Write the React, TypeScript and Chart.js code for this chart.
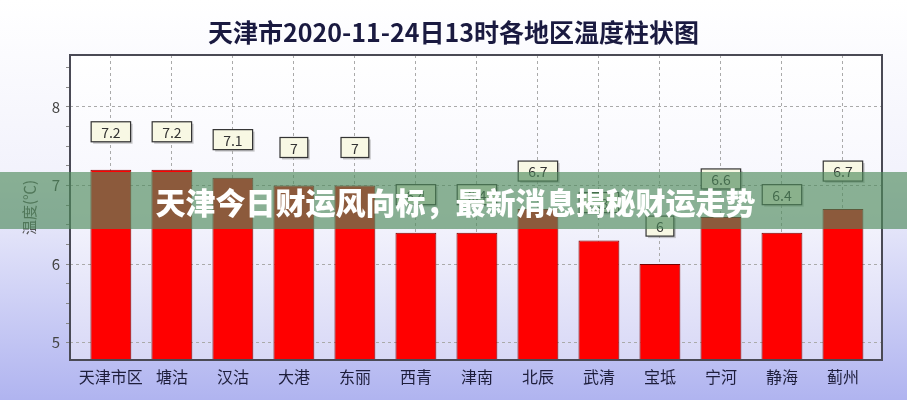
import React, { useEffect, useRef } from "react";
import { Chart, registerables } from "chart.js";

Chart.register(...registerables);

const titleText = "天津市2020-11-24日13时各地区温度柱状图";
const yAxisTitle = "温度(℃)";
const bannerText = "天津今日财运风向标，最新消息揭秘财运走势";
const categories = ["天津市区", "塘沽", "汉沽", "大港", "东丽", "西青", "津南", "北辰", "武清", "宝坻", "宁河", "静海", "蓟州"];
const temperatures = [7.2, 7.2, 7.1, 7, 7, 6.4, 6.4, 6.7, 6.3, 6, 6.6, 6.4, 6.7];
const yMajorTicks = [5, 6, 7, 8];
const yAllTicks = [5, 5.25, 5.5, 5.75, 6, 6.25, 6.5, 6.75, 7, 7.25, 7.5, 7.75, 8, 8.25, 8.5];

const FONT = "'Noto Sans CJK SC', 'Noto Sans', sans-serif";

const backgroundPlugin = {
  id: "bgPlugin",
  beforeDraw(chart: any) {
    const { ctx, width, height, chartArea } = chart;
    ctx.save();
    const g = ctx.createLinearGradient(0, 0, 0, height);
    g.addColorStop(0, "#ffffff");
    g.addColorStop(0.45, "#f2f2fc");
    g.addColorStop(1, "#b0b4f0");
    ctx.fillStyle = g;
    ctx.fillRect(0, 0, width, height);
    const { left, top, right, bottom } = chartArea;
    const g2 = ctx.createLinearGradient(0, top, 0, bottom);
    g2.addColorStop(0, "#ffffff");
    g2.addColorStop(0.5, "#f6f6fd");
    g2.addColorStop(1, "#d8d8f6");
    ctx.fillStyle = g2;
    ctx.fillRect(left, top, right - left, bottom - top);
    ctx.restore();
  },
};

const frameLabelPlugin = {
  id: "frameLabels",
  afterDatasetsDraw(chart: any) {
    const { ctx, chartArea } = chart;
    const { left, top, right, bottom } = chartArea;
    ctx.save();
    ctx.strokeStyle = "#4a4a55";
    ctx.lineWidth = 2;
    ctx.setLineDash([]);
    ctx.strokeRect(left, top, right - left, bottom - top);

    const meta = chart.getDatasetMeta(0);
    ctx.font = `14px ${FONT}`;
    ctx.textAlign = "center";
    ctx.textBaseline = "middle";
    meta.data.forEach((bar: any, i: number) => {
      const txt = String(temperatures[i]);
      const tw = ctx.measureText(txt).width;
      const w = tw + 20;
      const h = 20;
      const cx = bar.x;
      const cy = bar.y - 38;
      ctx.fillStyle = "rgba(150,150,150,0.5)";
      ctx.fillRect(cx - w / 2 + 2, cy - h / 2 + 2, w, h);
      ctx.fillStyle = "#f8f8e4";
      ctx.fillRect(cx - w / 2, cy - h / 2, w, h);
      ctx.strokeStyle = "#333333";
      ctx.lineWidth = 1.2;
      ctx.strokeRect(cx - w / 2, cy - h / 2, w, h);
      ctx.fillStyle = "#333333";
      ctx.fillText(txt, cx, cy + 1);
    });
    ctx.restore();
  },
};

export default function App() {
  const canvasRef = useRef<HTMLCanvasElement | null>(null);

  useEffect(() => {
    if (!canvasRef.current) return;
    const chart = new Chart(canvasRef.current, {
      type: "bar",
      data: {
        datasets: [
          {
            data: categories.map((_, i) => ({ x: i, y: temperatures[i] })),
            backgroundColor: "#ff0000",
            borderColor: "#7a0000",
            borderWidth: 1,
            categoryPercentage: 1,
            barPercentage: 0.67,
          },
        ],
      },
      options: {
        animation: false,
        responsive: true,
        maintainAspectRatio: false,
        layout: { padding: { left: 0, right: 0, top: 0, bottom: 0 } },
        plugins: {
          legend: { display: false },
          tooltip: { enabled: false },
          title: {
            display: true,
            text: titleText,
            color: "#1a1a40",
            font: { size: 25, weight: "bold", family: FONT },
            padding: { top: 17, bottom: 8 },
          },
        },
        scales: {
          x: {
            type: "linear",
            offset: false,
            min: -0.67,
            max: 12.64,
            afterBuildTicks: (s: any) => {
              s.ticks = categories.map((_, i) => ({ value: i }));
            },
            afterFit: (s: any) => {
              s.height = 40;
              s.paddingLeft = 0;
              s.paddingRight = 25;
            },
            ticks: {
              callback: (v: any) => categories[v] ?? "",
              color: "#1e1e3c",
              font: { size: 16, family: FONT },
              padding: 3,
              autoSkip: false,
              maxRotation: 0,
            },
            grid: {
              color: "#aaaaaa",
              lineWidth: 1,
              tickLength: 4,
              tickColor: "rgba(0,0,0,0)",
              offset: false,
            },
            border: { display: false, dash: [3, 3] },
          } as any,
          y: {
            min: 4.78,
            max: 8.66,
            afterBuildTicks: (s: any) => {
              s.ticks = yAllTicks.map((v) => ({ value: v }));
            },
            afterFit: (s: any) => {
              s.width = 70;
              s.paddingTop = 0;
              s.paddingBottom = 0;
            },
            ticks: {
              callback: (v: any) => (yMajorTicks.includes(v) ? String(v) : ""),
              color: "#444444",
              font: { size: 15, family: FONT },
              padding: 6,
              autoSkip: false,
            },
            grid: {
              color: (c: any) => (c.tick && yMajorTicks.includes(c.tick.value) ? "#aaaaaa" : "rgba(0,0,0,0)"),
              lineWidth: 1,
              tickLength: 4,
              tickColor: "#888888",
            },
            border: { display: false, dash: [3, 3] },
            title: {
              display: true,
              text: yAxisTitle,
              color: "#555555",
              font: { size: 15, family: FONT },
              padding: { top: 20, bottom: 0 },
            },
          } as any,
        },
      },
      plugins: [backgroundPlugin, frameLabelPlugin],
    } as any);
    return () => chart.destroy();
  }, []);

  return (
    <div style={{ position: "fixed", left: 0, top: 0, width: 907, height: 400 }}>
      <canvas ref={canvasRef} />
      <div
        style={{
          position: "absolute",
          left: 0,
          top: 172,
          width: 907,
          height: 57,
          background: "rgba(78,138,92,0.65)",
          display: "flex",
          alignItems: "center",
          justifyContent: "center",
          color: "#ffffff",
          fontFamily: FONT,
          fontWeight: 900,
          fontSize: 30,
          paddingLeft: 4,
          boxSizing: "border-box",
          pointerEvents: "none",
        }}
      >
        {bannerText}
      </div>
    </div>
  );
}
